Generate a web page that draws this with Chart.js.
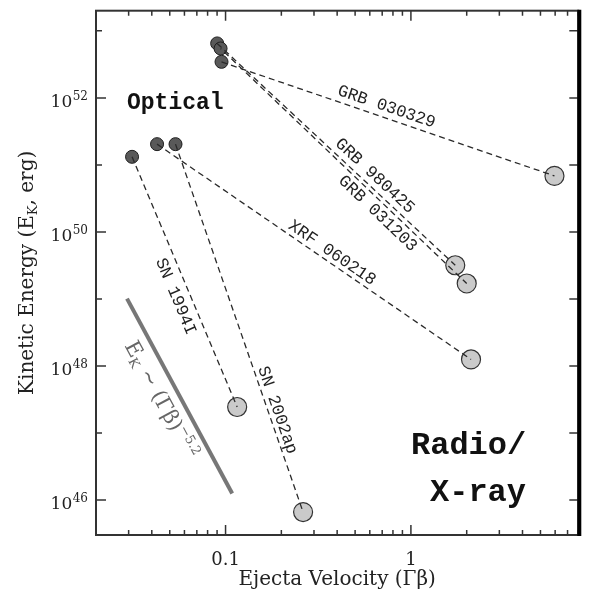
<!DOCTYPE html>
<html>
<head>
<meta charset="utf-8">
<script src="https://cdn.jsdelivr.net/npm/chart.js@4.4.0/dist/chart.umd.min.js"></script>
<style>
  html, body { margin: 0; padding: 0; background: #fff; }
  #wrap { width: 589px; height: 593px; }
</style>
</head>
<body>
<div id="wrap"><canvas id="energyChart" width="589" height="593"></canvas></div>
<script>
// events, optical (early, slow ejecta) and radio/x-ray (fast ejecta) measurements
const events = ['GRB 030329', 'GRB 980425', 'GRB 031203', 'XRF 060218', 'SN 1994I', 'SN 2002ap'];
const opticalVelocity = [0.0951, 0.0901, 0.094, 0.0427, 0.0313, 0.0537];
const opticalEnergy = [3.45e52, 6.5e52, 5.46e52, 2.04e51, 1.32e51, 2.04e51];
const radioVelocity = [5.95, 1.735, 2.0, 2.11, 0.1155, 0.262];
const radioEnergy = [6.85e50, 3.18e49, 1.7e49, 1.25e48, 2.44e47, 6.6e45];

// E_K ~ (Gamma beta)^-5.2 guide line
const powerLawVelocity = [0.0294, 0.1086];
const powerLawEnergy = [1.01e49, 1.25e46];

// axis ticks
const xMajorTicks = [0.1, 1];
const xTickLabels = ['0.1', '1'];
const xMinorTicks = [0.03, 0.04, 0.05, 0.06, 0.07, 0.08, 0.09,
                     0.2, 0.3, 0.4, 0.5, 0.6, 0.7, 0.8, 0.9,
                     2, 3, 4, 5, 6, 7, 8];
const yMajorTicks = [1e46, 1e48, 1e50, 1e52];
const yTickExponents = ['46', '48', '50', '52'];
const yMinorTicks = [1e47, 1e49, 1e51, 1e53];

// where each event name sits along its connector (fraction, perpendicular px)
const labelPlacement = [
    { t: 0.485, d: 10.9 },
    { t: 0.632, d: 10.5 },
    { t: 0.669, d: -10.9 },
    { t: 0.541, d: 9.3 },
    { t: 0.537, d: -14 },
    { t: 0.731, d: 9 }
];

const SERIF = '"DejaVu Serif", "Liberation Serif", serif';
const MONO = '"Liberation Mono", "DejaVu Sans Mono", monospace';

function drawRuns(ctx, runs, x, y) {
    let cx = x;
    runs.forEach(r => {
        ctx.font = r.font;
        ctx.fillText(r.text, cx, y + (r.dy || 0));
        cx += ctx.measureText(r.text).width;
    });
}

function runsWidth(ctx, runs) {
    return runs.reduce((w, r) => {
        ctx.font = r.font;
        return w + ctx.measureText(r.text).width;
    }, 0);
}

const frameAndText = {
    id: 'frameAndText',
    afterDatasetsDraw(chart) {
        const { ctx, chartArea: a, scales: { x, y } } = chart;
        ctx.save();

        // inward ticks on all four sides
        ctx.strokeStyle = '#333';
        ctx.lineWidth = 1.5;
        ctx.beginPath();
        const xt = xMajorTicks.map(v => [v, 10]).concat(xMinorTicks.map(v => [v, 5]));
        xt.forEach(([v, len]) => {
            const px = x.getPixelForValue(v);
            ctx.moveTo(px, a.bottom); ctx.lineTo(px, a.bottom - len);
            ctx.moveTo(px, a.top); ctx.lineTo(px, a.top + len);
        });
        const yt = yMajorTicks.map(v => [v, 10]).concat(yMinorTicks.map(v => [v, 6]));
        yt.forEach(([v, len]) => {
            const py = y.getPixelForValue(v);
            ctx.moveTo(a.left, py); ctx.lineTo(a.left + len, py);
            ctx.moveTo(a.right, py); ctx.lineTo(a.right - 9, py);
        });
        ctx.stroke();

        // frame
        ctx.lineWidth = 2;
        ctx.strokeStyle = '#333';
        ctx.strokeRect(a.left, a.top, a.right - a.left, a.bottom - a.top);
        ctx.lineWidth = 4;
        ctx.strokeStyle = '#000';
        ctx.beginPath();
        ctx.moveTo(a.right + 1, a.top - 1);
        ctx.lineTo(a.right + 1, a.bottom + 1);
        ctx.stroke();

        ctx.fillStyle = '#222';

        // x tick labels
        ctx.textAlign = 'center';
        ctx.textBaseline = 'alphabetic';
        ctx.font = '18px ' + SERIF;
        xMajorTicks.forEach((v, i) => {
            ctx.fillText(xTickLabels[i], x.getPixelForValue(v), 565);
        });

        // y tick labels 10^n
        yMajorTicks.forEach((v, i) => {
            const py = y.getPixelForValue(v);
            ctx.textAlign = 'right';
            ctx.font = '12px ' + SERIF;
            const supW = ctx.measureText(yTickExponents[i]).width;
            ctx.fillText(yTickExponents[i], 88, py + 2.5);
            ctx.font = '17px ' + SERIF;
            ctx.fillText('10', 88 - supW - 0.5, py + 9);
        });

        // axis titles
        ctx.textAlign = 'left';
        const xTitle = [{ text: 'Ejecta Velocity (Γβ)', font: '20px ' + SERIF }];
        drawRuns(ctx, xTitle, (a.left + a.right) / 2 - runsWidth(ctx, xTitle) / 2, 585);

        const yTitle = [
            { text: 'Kinetic Energy (E', font: '20px ' + SERIF },
            { text: 'K', font: '13px ' + SERIF, dy: 4 },
            { text: ', erg)', font: '20px ' + SERIF }
        ];
        ctx.save();
        ctx.translate(33, (a.top + a.bottom) / 2);
        ctx.rotate(-Math.PI / 2);
        drawRuns(ctx, yTitle, -runsWidth(ctx, yTitle) / 2, 0);
        ctx.restore();

        // event names along connectors
        ctx.font = '17px ' + MONO;
        ctx.textAlign = 'center';
        ctx.textBaseline = 'middle';
        events.forEach((name, i) => {
            const x0 = x.getPixelForValue(opticalVelocity[i]);
            const y0 = y.getPixelForValue(opticalEnergy[i]);
            const x1 = x.getPixelForValue(radioVelocity[i]);
            const y1 = y.getPixelForValue(radioEnergy[i]);
            const th = Math.atan2(y1 - y0, x1 - x0);
            const { t, d } = labelPlacement[i];
            ctx.save();
            ctx.translate(x0 + t * (x1 - x0) + d * Math.sin(th), y0 + t * (y1 - y0) - d * Math.cos(th));
            ctx.rotate(th);
            ctx.fillText(name, 0, 0);
            ctx.restore();
        });

        // power-law label
        const px0 = x.getPixelForValue(powerLawVelocity[0]);
        const py0 = y.getPixelForValue(powerLawEnergy[0]);
        const px1 = x.getPixelForValue(powerLawVelocity[1]);
        const py1 = y.getPixelForValue(powerLawEnergy[1]);
        const pth = Math.atan2(py1 - py0, px1 - px0);
        ctx.save();
        ctx.translate(px0 + 0.18 * (px1 - px0), py0 + 0.18 * (py1 - py0));
        ctx.rotate(pth);
        ctx.fillStyle = '#666';
        ctx.textAlign = 'left';
        ctx.textBaseline = 'alphabetic';
        drawRuns(ctx, [
            { text: 'E', font: '21px ' + SERIF },
            { text: 'K', font: '13px ' + SERIF, dy: 4 },
            { text: ' ~ (Γβ)', font: '21px ' + SERIF },
            { text: '−5.2', font: '13px ' + SERIF, dy: -9 }
        ], 0, 24.6);
        ctx.restore();

        // region labels
        ctx.fillStyle = '#111';
        ctx.textAlign = 'left';
        ctx.textBaseline = 'alphabetic';
        ctx.font = 'bold 23px ' + MONO;
        ctx.fillText('Optical', 127, 109);
        ctx.font = 'bold 32px ' + MONO;
        ctx.fillText('Radio/', 411, 454);
        ctx.fillText('X-ray', 430, 501);

        ctx.restore();
    }
};

const connectorSets = events.map((name, i) => ({
    label: name,
    data: [
        { x: opticalVelocity[i], y: opticalEnergy[i] },
        { x: radioVelocity[i], y: radioEnergy[i] }
    ],
    showLine: true,
    borderColor: '#2a2a2a',
    borderWidth: 1.3,
    borderDash: [6, 4],
    borderDashOffset: i === 2 ? 5 : 0,
    pointRadius: 0,
    order: 0
}));

new Chart(document.getElementById('energyChart'), {
    type: 'scatter',
    data: {
        datasets: [
            ...connectorSets,
            {
                label: 'power law',
                data: powerLawVelocity.map((v, i) => ({ x: v, y: powerLawEnergy[i] })),
                showLine: true,
                borderColor: '#777',
                borderWidth: 4,
                pointRadius: 0,
                order: 0
            },
            {
                label: 'Optical',
                data: opticalVelocity.map((v, i) => ({ x: v, y: opticalEnergy[i] })),
                pointRadius: 6.5,
                pointBackgroundColor: '#595959',
                pointBorderColor: '#1e1e1e',
                pointBorderWidth: 1,
                order: 1
            },
            {
                label: 'Radio/X-ray',
                data: radioVelocity.map((v, i) => ({ x: v, y: radioEnergy[i] })),
                pointRadius: 9.5,
                pointBackgroundColor: '#cacaca',
                pointBorderColor: '#333',
                pointBorderWidth: 1.2,
                order: 1
            }
        ]
    },
    options: {
        responsive: false,
        devicePixelRatio: 1,
        animation: false,
        layout: { padding: { top: 10, right: 10, left: 0, bottom: 0 } },
        plugins: {
            legend: { display: false },
            tooltip: { enabled: false }
        },
        scales: {
            x: {
                type: 'logarithmic',
                min: 0.02,
                max: 8,
                grid: { display: false },
                border: { display: false },
                ticks: { display: false },
                afterFit: scale => { scale.height = 58; }
            },
            y: {
                type: 'logarithmic',
                min: 3e45,
                max: 2e53,
                grid: { display: false },
                border: { display: false },
                ticks: { display: false },
                afterFit: scale => { scale.width = 96; }
            }
        }
    },
    plugins: [frameAndText]
});
</script>
</body>
</html>
